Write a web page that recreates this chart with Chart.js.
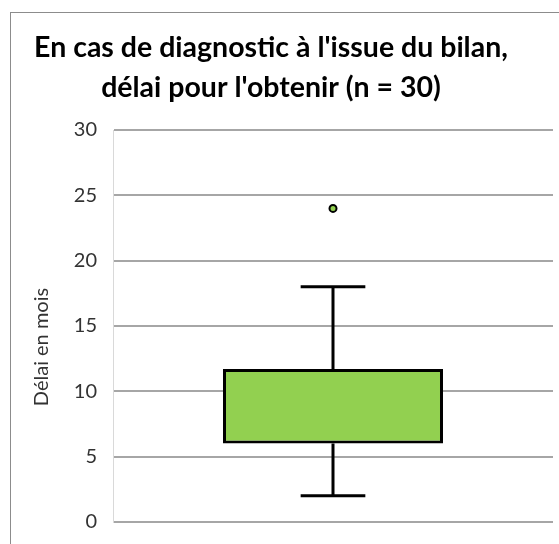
<!DOCTYPE html>
<html>
<head>
<meta charset="utf-8">
<script src="https://cdn.jsdelivr.net/npm/chart.js@4.4.1/dist/chart.umd.min.js"></script>
<style>
  html, body { margin: 0; padding: 0; background: #ffffff; }
  #wrap { width: 559px; height: 544px; position: relative; }
</style>
</head>
<body>
<div id="wrap"><canvas id="c" width="559" height="544"></canvas></div>
<script>
// ---- data ----
const categories = ['Délai'];
const boxLow = [6];        // first quartile
const boxHigh = [11.7];    // third quartile
const whiskerMin = [2];
const whiskerMax = [18];
const outliers = [24];
const titleLines = ["En cas de diagnostic à l'issue du bilan,", "délai pour l'obtenir (n = 30)"];
const yAxisTitle = 'Délai en mois';
const yMin = 0, yMax = 30, yStep = 5;

// ---- plugins ----
const frame = {
  id: 'frame',
  beforeDraw(chart) {
    const ctx = chart.ctx;
    ctx.save();
    ctx.fillStyle = '#ffffff';
    ctx.fillRect(0, 0, chart.width, chart.height);
    ctx.strokeStyle = '#8c8c8c';
    ctx.lineWidth = 1;
    ctx.strokeRect(10.5, 12.5, chart.width + 20, chart.height + 20);
    ctx.restore();
  },
  afterLayout(chart) {
    if (chart.titleBlock) { chart.titleBlock.left = 10; chart.titleBlock.right = 532; }
    const s = chart.scales.y;
    if (s && !s._titlePatched) {
      const orig = s.drawTitle;
      s.drawTitle = function () {
        const t = this.top, b = this.bottom;
        this.top = t + 21; this.bottom = b + 21;
        orig.call(this);
        this.top = t; this.bottom = b;
      };
      s._titlePatched = true;
    }
  }
};

const whiskers = {
  id: 'whiskers',
  beforeDatasetsDraw(chart) {
    const ctx = chart.ctx;
    const x = chart.scales.x, y = chart.scales.y;
    const meta = chart.getDatasetMeta(1);
    ctx.save();
    ctx.strokeStyle = '#000000';
    ctx.lineWidth = 3;
    ctx.lineCap = 'butt';
    categories.forEach((c, i) => {
      const cx = x.getPixelForValue(i);
      const bw = (meta.data[i] && meta.data[i].width) ? meta.data[i].width : 220;
      const half = bw * 0.147;
      const yl = y.getPixelForValue(boxLow[i]);
      const yh = y.getPixelForValue(boxHigh[i]);
      const ymn = y.getPixelForValue(whiskerMin[i]);
      const ymx = y.getPixelForValue(whiskerMax[i]);
      ctx.beginPath();
      ctx.moveTo(cx, yh); ctx.lineTo(cx, ymx);
      ctx.moveTo(cx, yl); ctx.lineTo(cx, ymn);
      ctx.moveTo(cx - half, ymx); ctx.lineTo(cx + half, ymx);
      ctx.moveTo(cx - half, ymn); ctx.lineTo(cx + half, ymn);
      ctx.stroke();
    });
    ctx.restore();
  }
};

new Chart(document.getElementById('c'), {
  type: 'bar',
  data: {
    labels: categories,
    datasets: [
      {
        type: 'line',
        label: 'Valeurs extrêmes',
        data: outliers,
        showLine: false,
        pointRadius: 3.5,
        pointBackgroundColor: '#92D050',
        pointBorderColor: '#000000',
        pointBorderWidth: 2,
        order: 0
      },
      {
        label: 'Boîte',
        data: categories.map((c, i) => [boxLow[i], boxHigh[i]]),
        backgroundColor: '#92D050',
        borderColor: '#000000',
        borderWidth: 3,
        borderSkipped: false,
        barPercentage: 0.5,
        categoryPercentage: 1,
        order: 1
      }
    ]
  },
  options: {
    responsive: false,
    animation: false,
    layout: { padding: { left: 0, right: 6, top: 0, bottom: 22 } },
    plugins: {
      legend: { display: false },
      tooltip: { enabled: false },
      title: {
        display: true,
        text: titleLines,
        color: '#000000',
        font: { family: 'Lato', weight: 'bold', size: 28.5, lineHeight: 40.5 / 28.5 },
        padding: { top: 27.5, bottom: 21.5 }
      }
    },
    scales: {
      x: { display: false, offset: true },
      y: {
        min: yMin, max: yMax,
        afterFit(scale) { scale.width = 113; },
        ticks: { stepSize: yStep, padding: 4, color: '#333333', font: { family: 'Lato', size: 20 } },
        grid: { color: '#a6a6a6', lineWidth: 2, drawTicks: true, tickLength: 12, tickColor: 'rgba(0,0,0,0)' },
        border: { color: '#d9d9d9', width: 1 },
        title: {
          display: true, text: yAxisTitle, color: '#333333',
          font: { family: 'Lato', size: 20 },
          padding: { top: 30, bottom: 0 }
        }
      }
    }
  },
  plugins: [frame, whiskers]
});
</script>
</body>
</html>
